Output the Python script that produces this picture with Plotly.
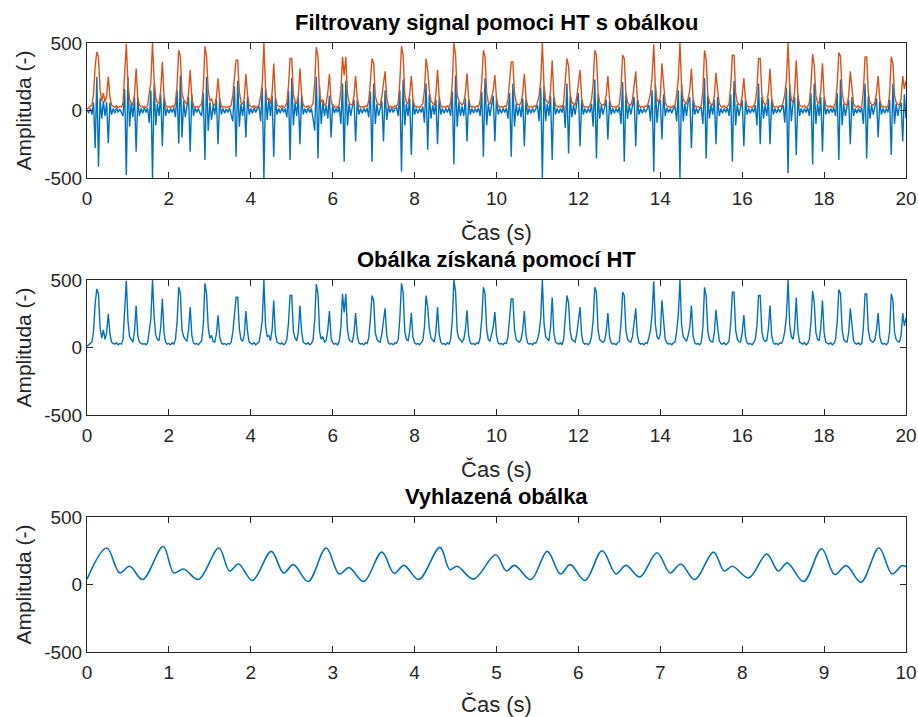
import numpy as np
import plotly.graph_objects as go

# ---------------- data ----------------
DT = 0.04

envelope = [
    10, 20, 25, 40, 120, 330, 434, 397, 150, 70, 130, 60, 110, 250, 100, 40, 30, 25, 35, 20, 30, 25, 60, 270, 495,
    200, 80, 60, 40, 120, 311, 90, 40, 30, 25, 30, 20, 35, 120, 213, 500, 220, 90, 60, 50, 150, 360, 110, 40, 25,
    30, 20, 35, 25, 60, 190, 446, 400, 130, 80, 60, 45, 130, 299, 90, 35, 25, 30, 20, 35, 50, 170, 475, 400, 150,
    70, 90, 45, 40, 100, 238, 80, 35, 25, 30, 20, 30, 25, 40, 110, 250, 372, 372, 140, 60, 45, 90, 270, 120, 40,
    30, 25, 35, 20, 30, 40, 110, 200, 500, 160, 80, 90, 50, 130, 348, 100, 40, 30, 25, 35, 20, 30, 60, 180, 385,
    385, 120, 70, 50, 110, 311, 120, 40, 30, 25, 35, 20, 30, 55, 200, 470, 400, 120, 60, 80, 40, 50, 130, 270, 70,
    35, 25, 30, 20, 45, 150, 397, 260, 397, 130, 60, 45, 40, 110, 255, 90, 35, 25, 30, 20, 35, 30, 70, 210, 385,
    350, 110, 60, 45, 40, 100, 200, 290, 90, 35, 25, 30, 20, 35, 30, 60, 220, 475, 410, 120, 60, 50, 120, 255, 80,
    35, 25, 30, 20, 35, 50, 150, 385, 300, 140, 70, 50, 40, 120, 300, 100, 40, 25, 30, 20, 35, 25, 60, 200, 500,
    415, 120, 70, 50, 40, 60, 130, 275, 90, 35, 25, 30, 20, 35, 30, 70, 210, 446, 400, 130, 60, 45, 100, 150, 262,
    90, 35, 25, 30, 20, 35, 30, 80, 200, 360, 360, 130, 60, 45, 40, 60, 130, 270, 90, 35, 25, 30, 20, 35, 30,
    60, 110, 220, 500, 180, 80, 60, 50, 150, 370, 110, 40, 30, 25, 35, 20, 60, 200, 385, 330, 120, 60, 50, 40, 100,
    200, 300, 90, 35, 25, 30, 20, 35, 80, 200, 446, 410, 130, 60, 45, 40, 50, 120, 255, 80, 35, 25, 30, 20, 35,
    45, 170, 410, 385, 130, 60, 45, 40, 80, 180, 290, 90, 35, 25, 30, 20, 35, 30, 70, 130, 250, 490, 170, 80, 60,
    100, 350, 200, 60, 35, 25, 30, 20, 35, 40, 120, 240, 500, 170, 80, 60, 45, 90, 150, 310, 90, 35, 25, 30, 20,
    35, 150, 446, 380, 120, 60, 45, 40, 110, 280, 150, 50, 30, 25, 35, 20, 30, 50, 180, 410, 410, 130, 60, 45, 40,
    110, 240, 80, 35, 25, 30, 20, 35, 60, 160, 385, 385, 120, 60, 45, 50, 140, 310, 90, 35, 25, 30, 20, 35, 30,
    60, 120, 230, 500, 170, 80, 60, 140, 370, 120, 40, 30, 25, 35, 20, 30, 60, 190, 420, 330, 110, 60, 50, 150, 350,
    110, 40, 30, 25, 35, 20, 30, 60, 190, 430, 400, 130, 60, 45, 40, 110, 290, 160, 50, 30, 25, 35, 20, 30, 150,
    397, 397, 130, 60, 45, 40, 60, 130, 255, 80, 35, 25, 30, 20, 35, 120, 397, 350, 110, 60, 45, 40, 90, 255, 160, 220,
]

signal = [
    0, -15, 15, -30, 60, -280, 250, -416, 90, -60, 70, -40, 60, -243, 60, -30, 15, -20, 20, -15, 10, -20, -40, 160, -478,
    250, -120, 60, -50, 100, -305, 90, -40, 15, -20, 20, -15, 20, -90, 150, -500, 200, -110, 50, -40, 120, -265, 100, -40, 15,
    -20, 15, -15, 20, -50, 150, -245, 260, -200, 70, -50, 30, 100, -305, 120, -40, 20, -15, 15, -20, -40, 130, -367, 250, -150,
    60, -70, 40, -30, 80, -250, 90, -30, 15, -20, 10, -15, 20, -30, -80, 180, -342, 220, -120, 50, -40, 70, -200, 100, -30,
    15, -20, 20, -15, 15, 30, -80, 170, -500, 160, -70, 80, -40, 110, -342, 90, -30, 15, -20, 20, -15, 15, -50, 150, -367,
    240, -110, 60, -40, 100, -250, 110, -30, 15, -20, 20, -15, 15, -60, -150, 250, -355, 180, -100, 60, -40, 40, -60, 110, -200,
    50, -20, 15, -15, 30, -100, 200, -380, 220, -110, 50, -40, 30, 80, -230, 80, -30, 15, -20, 15, -15, 20, -50, 140, -380,
    200, -100, 50, -40, 30, 70, -230, 150, -70, 30, -15, 20, -15, 15, 20, -40, 150, -453, 230, -110, 50, -40, 90, -330, 80,
    -30, 15, -20, 15, -15, 30, -90, 200, -290, 120, -60, 40, -30, 80, -250, 90, -30, 15, -20, 15, -15, 20, -40, 140, -400,
    260, -120, 60, -40, 30, -40, 90, -230, 80, -30, 15, -20, 15, -15, 20, -40, 140, -342, 240, -110, 50, -40, 40, 110, -230,
    90, -30, 15, -20, 15, -15, 20, -60, 130, -342, 200, -120, 50, -40, 30, -50, 90, -265, 80, -30, 15, -20, 15, -15, 20,
    40, -80, 170, -500, 180, -80, 50, -40, 110, -367, 100, -30, 15, -20, 15, -15, 40, -130, 200, -318, 110, -50, 40, -30, 60,
    130, -265, 80, -30, 15, -20, 15, -15, 50, -120, 230, -355, 120, -60, 40, -30, 40, 80, -215, 70, -30, 15, -20, 15, -15,
    30, -100, 210, -380, 120, -60, 40, -30, 50, 100, -265, 80, -30, 15, -20, 15, -15, 20, 40, -80, 150, -453, 200, -90, 50,
    80, -215, 120, -40, 20, -15, 15, -20, 15, 30, -80, 150, -500, 200, -80, 50, -40, 60, 100, -280, 80, -30, 15, -20, 15,
    20, -100, 240, -355, 110, -60, 40, -30, 80, -250, 100, -40, 15, -20, 15, -15, 20, -40, 120, -380, 220, -110, 50, -40, 30,
    80, -265, 80, -30, 15, -20, 15, -15, 40, -110, 200, -250, 100, -60, 40, -40, 90, -250, 80, -30, 15, -20, 15, -15, 20,
    40, -90, 170, -465, 190, -80, 50, 100, -330, 110, -40, 15, -20, 15, -15, 20, -40, 130, -400, 200, -100, 50, -40, 100, -305,
    100, -30, 15, -20, 15, -15, 20, -40, 130, -367, 230, -110, 50, -40, 30, 80, -250, 100, -40, 15, -20, 15, -15, 20, -100,
    200, -355, 110, -60, 40, -30, 40, 90, -200, 70, -30, 15, -20, 15, -15, 80, -330, 200, -100, 50, -40, 30, 60, -230, 120, -60,
]

smooth_t = [0.0, 0.24, 0.40, 0.52, 0.68, 0.93, 1.06, 1.18, 1.36, 1.61, 1.74, 1.85, 2.02, 2.25, 2.40, 2.52, 2.70,
            2.92, 3.08, 3.20, 3.38, 3.60, 3.75, 3.87, 4.05, 4.31, 4.43, 4.52, 4.72, 4.99, 5.12, 5.22, 5.42, 5.62,
            5.78, 5.90, 6.08, 6.29, 6.46, 6.58, 6.75, 6.96, 7.12, 7.25, 7.42, 7.65, 7.78, 7.88, 8.08, 8.30, 8.44,
            8.55, 8.75, 8.97, 9.13, 9.27, 9.45, 9.67, 9.83, 9.95, 10.0]
smooth_v = [40, 270, 86, 135, 37, 282, 86, 115, 37, 270, 100, 152, 30, 245, 86, 147, 22,
            270, 78, 125, 22, 240, 82, 142, 37, 275, 110, 135, 40, 220, 100, 142, 37, 245,
            78, 147, 30, 250, 78, 142, 56, 235, 86, 152, 37, 240, 100, 135, 49, 225, 100,
            160, 22, 265, 74, 140, 17, 270, 78, 140, 132]

titles = ["Filtrovany signal pomoci HT s obálkou", "Obálka získaná pomocí HT", "Vyhlazená obálka"]
x_label = "Čas (s)"
y_label = "Amplituda (-)"
y_tick_vals = [-500, 0, 500]
y_tick_text = ["-500", "0", "500"]
x_ticks_20 = [0, 2, 4, 6, 8, 10, 12, 14, 16, 18, 20]
x_ticks_10 = [0, 1, 2, 3, 4, 5, 6, 7, 8, 9, 10]

# ---------------- figure ----------------
t = np.arange(len(envelope)) * DT

BLUE = "#0072BD"
ORANGE = "#D95319"
FONT = "Liberation Sans, Arial, Helvetica, sans-serif"
TXT = "#262626"

fig = go.Figure()
fig.add_trace(go.Scatter(x=t, y=signal, mode="lines", line=dict(color=BLUE, width=1.4),
                         xaxis="x", yaxis="y", hoverinfo="skip"))
fig.add_trace(go.Scatter(x=t, y=envelope, mode="lines", line=dict(color=ORANGE, width=1.4),
                         xaxis="x", yaxis="y", hoverinfo="skip"))
fig.add_trace(go.Scatter(x=t, y=envelope, mode="lines", line=dict(color=BLUE, width=1.4),
                         xaxis="x2", yaxis="y2", hoverinfo="skip"))
fig.add_trace(go.Scatter(x=smooth_t, y=smooth_v, mode="lines", line=dict(color=BLUE, width=1.6, shape="spline"),
                         xaxis="x3", yaxis="y3", hoverinfo="skip"))

W, H = 918, 717
ML, MR, MT, MB = 87, 12, 43, 65
ph = H - MT - MB


def dom(top_px, bot_px):
    return [(H - MB - bot_px) / ph, (H - MB - top_px) / ph]


doms = [dom(43, 178), dom(280, 415), dom(517, 652)]

axis_common = dict(showline=True, mirror="allticks", linecolor=TXT, linewidth=1,
                   ticks="inside", ticklen=6, tickcolor=TXT, tickwidth=1,
                   showgrid=False, zeroline=False, automargin=False,
                   tickfont=dict(size=19, color=TXT, family=FONT))

layout = dict(width=W, height=H, margin=dict(l=ML, r=MR, t=MT, b=MB, autoexpand=False),
              paper_bgcolor="white", plot_bgcolor="white", showlegend=False,
              font=dict(family=FONT, color=TXT), hovermode=False)

for k, (xa, ya) in enumerate([("xaxis", "yaxis"), ("xaxis2", "yaxis2"), ("xaxis3", "yaxis3")]):
    anchor_y = "y" if k == 0 else f"y{k+1}"
    anchor_x = "x" if k == 0 else f"x{k+1}"
    xt = x_ticks_10 if k == 2 else x_ticks_20
    layout[xa] = dict(axis_common, domain=[0, 1], anchor=anchor_y, range=[xt[0], xt[-1]],
                      tickvals=xt, ticktext=[str(v) for v in xt], ticklabelstandoff=3,
                      title=dict(text=x_label, font=dict(size=22, color=TXT, family=FONT), standoff=16))
    layout[ya] = dict(axis_common, domain=doms[k], anchor=anchor_x, range=[-500, 500],
                      tickvals=y_tick_vals, ticktext=y_tick_text,
                      title=dict(text=y_label, font=dict(size=21, color=TXT, family=FONT), standoff=6))

fig.update_layout(**layout)

for k, title in enumerate(titles):
    fig.add_annotation(text=f"<b>{title}</b>", xref="paper", yref="paper", x=0.5, y=doms[k][1],
                       xanchor="center", yanchor="bottom", yshift=6, showarrow=False,
                       font=dict(size=22, color="black", family=FONT))

fig.write_html("out.html")
